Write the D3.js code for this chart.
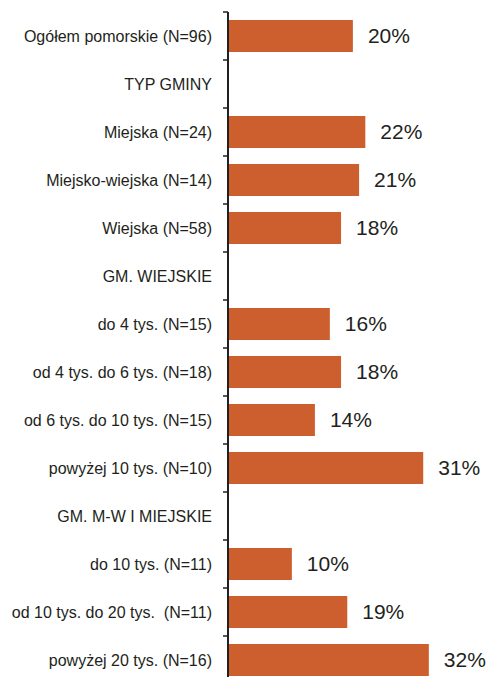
<!DOCTYPE html>
<html>
<head>
<meta charset="utf-8">
<script src="https://cdn.jsdelivr.net/npm/d3@7"></script>
<style>
  html, body { margin: 0; padding: 0; background: #fff; }
  svg { display: block; }
</style>
</head>
<body>
<svg id="chart" width="486" height="677"></svg>
<script>
const categories = [
  "Ogółem pomorskie (N=96)",
  "TYP GMINY",
  "Miejska (N=24)",
  "Miejsko-wiejska (N=14)",
  "Wiejska (N=58)",
  "GM. WIEJSKIE",
  "do 4 tys. (N=15)",
  "od 4 tys. do 6 tys. (N=18)",
  "od 6 tys. do 10 tys. (N=15)",
  "powyżej 10 tys. (N=10)",
  "GM. M-W I MIEJSKIE",
  "do 10 tys. (N=11)",
  "od 10 tys. do 20 tys.  (N=11)",
  "powyżej 20 tys. (N=16)"
];
const values = [19.9, null, 21.9, 20.9, 18.0, null, 16.2, 18.0, 13.8, 31.2, null, 10.1, 19.0, 32.1];
const valueLabels = ["20%", "", "22%", "21%", "18%", "", "16%", "18%", "14%", "31%", "", "10%", "19%", "32%"];

const svg = d3.select("#chart");
const fontFamily = "'Liberation Sans', Arial, Helvetica, sans-serif";
const textColor = "#231f20";
const barColor = "#cd5f2f";

const y = d3.scaleBand()
  .domain(categories)
  .range([12, 12 + 48 * categories.length])
  .paddingInner(1 / 3)
  .paddingOuter(1 / 6);

const x = d3.scaleLinear().domain([0, 40]).range([229, 478]);

const data = categories.map((c, i) => ({ c, v: values[i], lab: valueLabels[i] }));

// bars
svg.append("g").selectAll("rect")
  .data(data.filter(d => d.v != null))
  .join("rect")
  .attr("x", x(0))
  .attr("y", d => y(d.c))
  .attr("width", d => x(d.v) - x(0))
  .attr("height", y.bandwidth())
  .attr("fill", barColor);

// value labels
svg.append("g").selectAll("text")
  .data(data.filter(d => d.v != null))
  .join("text")
  .attr("x", d => x(d.v) + 15)
  .attr("y", d => y(d.c) + y.bandwidth() / 2)
  .attr("dy", "0.35em")
  .attr("font-family", fontFamily)
  .attr("font-size", 21)
  .attr("fill", textColor)
  .text(d => d.lab);

// axis line
svg.append("line")
  .attr("x1", 228).attr("x2", 228)
  .attr("y1", 12).attr("y2", 677)
  .attr("stroke", textColor)
  .attr("stroke-width", 2);

// ticks at band boundaries
const boundaries = d3.range(categories.length + 1).map(i => y.range()[0] + i * y.step());
svg.append("g").selectAll("line")
  .data(boundaries)
  .join("line")
  .attr("x1", 223).attr("x2", 228)
  .attr("y1", d => d).attr("y2", d => d)
  .attr("stroke", textColor)
  .attr("stroke-width", 1.5);

// category labels
svg.append("g").selectAll("text")
  .data(categories)
  .join("text")
  .attr("x", 212)
  .attr("y", d => y(d) + y.bandwidth() / 2)
  .attr("dy", "0.35em")
  .attr("text-anchor", "end")
  .attr("font-family", fontFamily)
  .attr("font-size", 16)
  .attr("fill", textColor)
  .style("white-space", "pre")
  .text(d => d);
</script>
</body>
</html>
